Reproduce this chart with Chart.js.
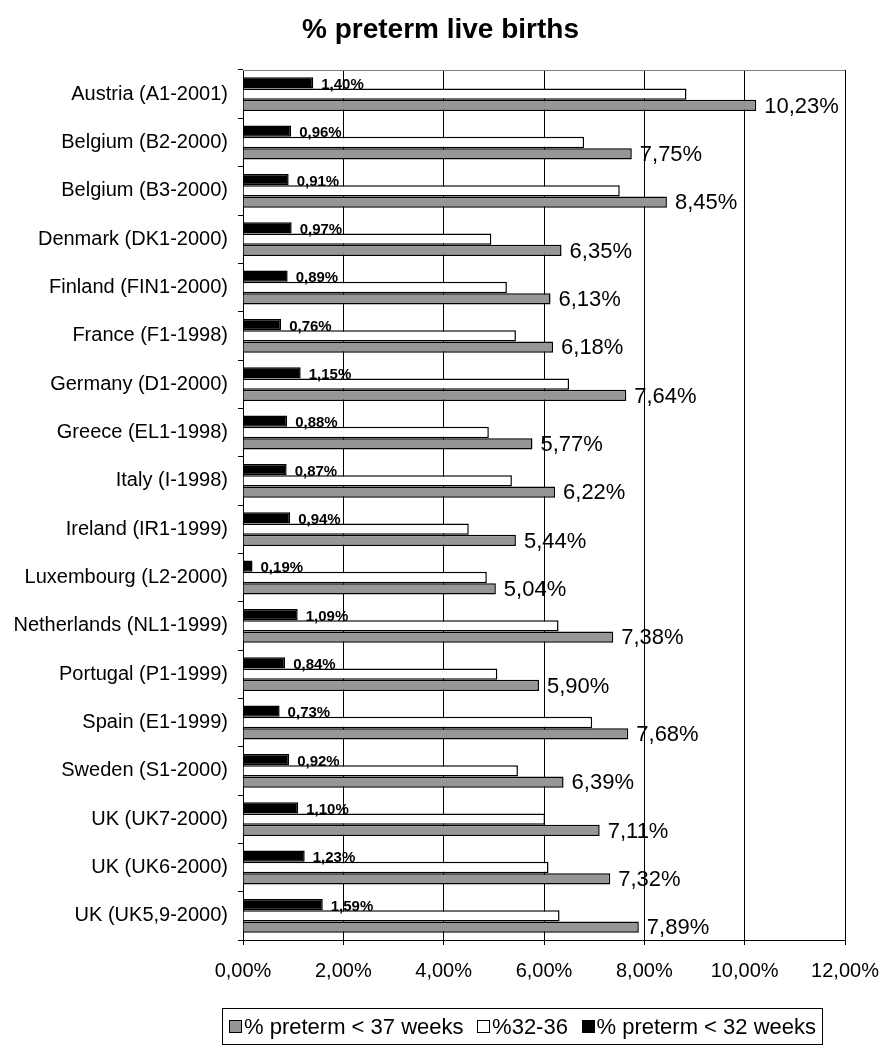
<!DOCTYPE html>
<html>
<head>
<meta charset="utf-8">
<script src="https://cdn.jsdelivr.net/npm/chart.js@4/dist/chart.umd.min.js"></script>
<style>
  html, body { margin: 0; padding: 0; background: #fff; }
  #wrap { position: relative; width: 881px; height: 1045px; overflow: hidden; }
  #c { position: absolute; left: 0; top: 0; }
  #legend { position: absolute; left: 222px; top: 1008px; width: 587px; height: 35px;
    padding: 0 6px; border: 1px solid #000; box-sizing: content-box; display: flex; align-items: center;
    justify-content: space-between;
    font-family: "Liberation Sans", Arial, sans-serif; font-size: 22px; color: #000; white-space: nowrap; }
  .item { display: flex; align-items: center; }
  .sw { width: 11px; height: 11px; border: 1px solid #000; margin-right: 2px; display: inline-block; }
</style>
</head>
<body>
<div id="wrap">
  <canvas id="c" width="881" height="1045"></canvas>
  <div id="legend"></div>
</div>
<script>
const categories = [
  "Austria (A1-2001)", "Belgium (B2-2000)", "Belgium (B3-2000)", "Denmark (DK1-2000)",
  "Finland (FIN1-2000)", "France (F1-1998)", "Germany (D1-2000)", "Greece (EL1-1998)",
  "Italy (I-1998)", "Ireland (IR1-1999)", "Luxembourg (L2-2000)", "Netherlands (NL1-1999)",
  "Portugal (P1-1999)", "Spain (E1-1999)", "Sweden (S1-2000)", "UK (UK7-2000)",
  "UK (UK6-2000)", "UK (UK5,9-2000)"
];
const pretermUnder32 = [1.40, 0.96, 0.91, 0.97, 0.89, 0.76, 1.15, 0.88, 0.87, 0.94, 0.19, 1.09, 0.84, 0.73, 0.92, 1.10, 1.23, 1.59];
const preterm32to36 = [8.84, 6.80, 7.51, 4.95, 5.26, 5.44, 6.50, 4.90, 5.36, 4.50, 4.86, 6.29, 5.07, 6.96, 5.48, 6.02, 6.09, 6.31];
const pretermUnder37 = [10.23, 7.75, 8.45, 6.35, 6.13, 6.18, 7.64, 5.77, 6.22, 5.44, 5.04, 7.38, 5.90, 7.68, 6.39, 7.11, 7.32, 7.89];
const xTicks = [0, 2, 4, 6, 8, 10, 12];
const seriesNames = ["% preterm < 32 weeks", "%32-36", "% preterm < 37 weeks"];
const titleText = "% preterm live births";

const FONT = '"Liberation Sans", Arial, sans-serif';
const fmt = v => v.toFixed(2).replace('.', ',') + '%';

const labelPlugin = {
  id: 'barLabels',
  afterDatasetsDraw(chart) {
    const ctx = chart.ctx;
    ctx.save();
    ctx.fillStyle = '#000';
    const m0 = chart.getDatasetMeta(0);
    ctx.font = 'bold 15px ' + FONT;
    ctx.textAlign = 'left';
    ctx.textBaseline = 'alphabetic';
    m0.data.forEach((bar, i) => {
      ctx.fillText(fmt(chart.data.datasets[0].data[i]), bar.x + 8, bar.y + bar.height / 2 + 0.5);
    });
    const m2 = chart.getDatasetMeta(2);
    ctx.font = '22px ' + FONT;
    ctx.textBaseline = 'middle';
    m2.data.forEach((bar, i) => {
      ctx.fillText(fmt(chart.data.datasets[2].data[i]), bar.x + 8, bar.y + 1);
    });
    ctx.restore();
  },
  afterDraw(chart) {
    const a = chart.chartArea, ctx = chart.ctx;
    ctx.save();
    ctx.strokeStyle = '#808080';
    ctx.lineWidth = 1;
    ctx.beginPath();
    ctx.moveTo(a.left, a.top + 0.5);
    ctx.lineTo(a.right, a.top + 0.5);
    ctx.stroke();
    ctx.restore();
  }
};

const chart = new Chart(document.getElementById('c'), {
  type: 'bar',
  data: {
    labels: categories,
    datasets: [
      { label: seriesNames[0], data: pretermUnder32, backgroundColor: '#000000', borderColor: '#000000', borderWidth: 1.5 },
      { label: seriesNames[1], data: preterm32to36, backgroundColor: '#ffffff', borderColor: '#000000', borderWidth: 1.5 },
      { label: seriesNames[2], data: pretermUnder37, backgroundColor: '#969696', borderColor: '#000000', borderWidth: 1.5 }
    ]
  },
  options: {
    indexAxis: 'y',
    responsive: false,
    animation: false,
    devicePixelRatio: 1,
    layout: { padding: 0 },
    datasets: { bar: { categoryPercentage: 0.7, barPercentage: 1.0 } },
    plugins: {
      legend: { display: false },
      tooltip: { enabled: false },
      title: {
        display: true, text: titleText, color: '#000',
        font: { family: FONT, size: 28, weight: 'bold' },
        padding: { top: 13.2, bottom: 23.2 }
      }
    },
    scales: {
      x: {
        min: 0, max: 12,
        afterBuildTicks: s => { s.ticks = xTicks.map(v => ({ value: v })); },
        afterFit: s => { s.height = 105; s.paddingRight = 36; s.paddingLeft = 0; },
        ticks: { callback: v => fmt(v), color: '#000', font: { family: FONT, size: 20 }, padding: 14, maxRotation: 0 },
        grid: { color: '#000', lineWidth: 1, tickLength: 5, drawOnChartArea: true },
        border: { color: '#000', width: 1 }
      },
      y: {
        afterFit: s => { s.width = 243; s.paddingTop = 0; s.paddingBottom = 0; },
        ticks: { color: '#000', font: { family: FONT, size: 20 }, padding: 10, autoSkip: false },
        grid: { offset: true, drawOnChartArea: false, color: '#000', tickLength: 5 },
        border: { color: '#000', width: 1 }
      }
    }
  },
  plugins: [labelPlugin]
});

const lg = document.getElementById('legend');
chart.data.datasets.slice().reverse().forEach(ds => {
  const it = document.createElement('span');
  it.className = 'item';
  const sw = document.createElement('span');
  sw.className = 'sw';
  sw.style.background = ds.backgroundColor;
  it.appendChild(sw);
  it.appendChild(document.createTextNode(ds.label));
  lg.appendChild(it);
});
</script>
</body>
</html>
